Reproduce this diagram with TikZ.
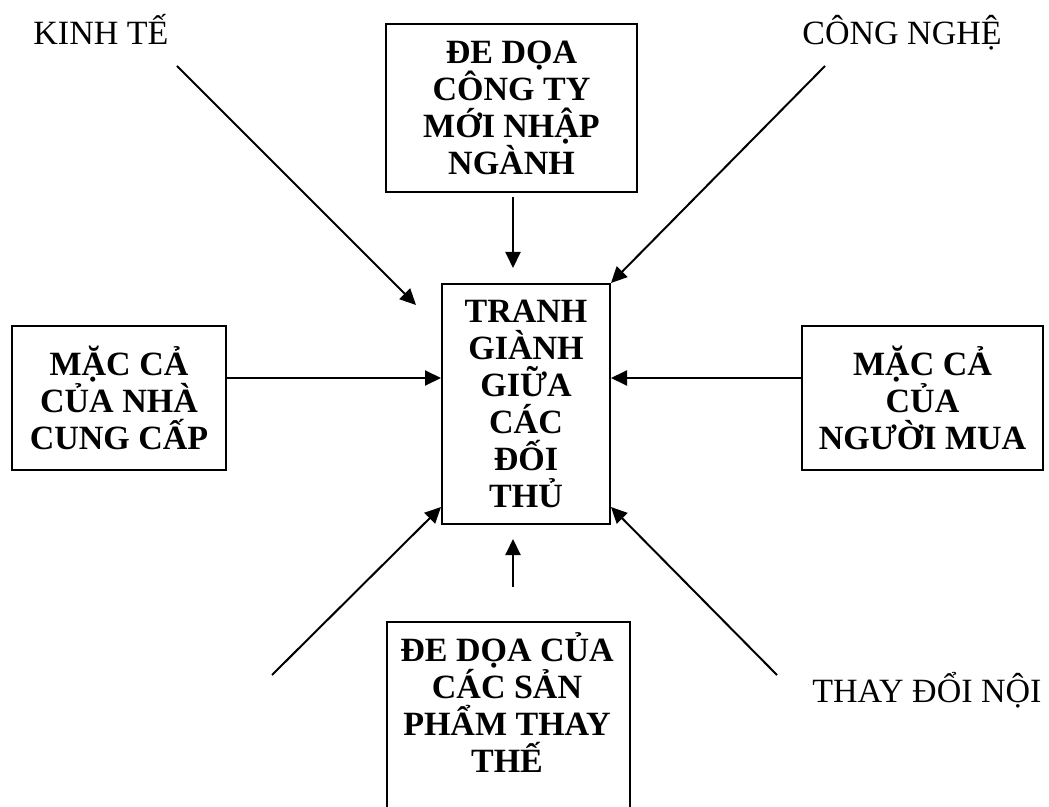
\documentclass[tikz,border=0pt]{standalone}
\usepackage{fontspec}
\setmainfont{Liberation Serif}
\usetikzlibrary{arrows.meta}
\tikzset{
  box/.style={draw, line width=1pt, align=center, inner sep=0pt, anchor=north west,
    font=\bfseries\fontsize{17}{18.5}\selectfont},
  boxtext/.style={align=center, inner sep=0pt, font=\bfseries\fontsize{17}{18.5}\selectfont},
  lbl/.style={inner sep=0pt, anchor=base west, font=\fontsize{17}{20}\selectfont},
  arr/.style={line width=1pt, -{Triangle[length=8pt,width=7.5pt]}}
}
\begin{document}
\begin{tikzpicture}[x=0.5pt,y=-0.5pt]
\useasboundingbox (0,0) rectangle (1049,807);
\clip (0,0) rectangle (1049,807);
% boxes
\node[box, minimum width=125.5pt, minimum height=84pt] (top) at (385,23)
  {ĐE DỌA\\CÔNG TY\\MỚI NHẬP\\NGÀNH};
\node[box, minimum width=84pt, minimum height=120pt] (ctr) at (441,283)
  {TRANH\\GIÀNH\\GIỮA\\CÁC\\ĐỐI\\THỦ};
\node[box, minimum width=107pt, minimum height=72pt] (lft) at (11,325)
  {MẶC CẢ\\CỦA NHÀ\\CUNG CẤP};
\node[box, minimum width=120.5pt, minimum height=72pt] (rgt) at (801,325)
  {MẶC CẢ\\CỦA\\NGƯỜI MUA};
\node[box, minimum width=121.5pt, minimum height=110pt] (bot) at (386,621) {};
\node[boxtext, anchor=north] (bottxt) at (507,632)
  {ĐE DỌA CỦA\\CÁC SẢN\\PHẨM THAY\\THẾ};
% labels
\node[lbl] (kt) at (33,45) {KINH TẾ};
\node[lbl] (cn) at (802,45) {CÔNG NGHỆ};
\node[lbl] (td) at (812,702) {THAY ĐỔI NỘI};
% free ends
\coordinate (ktS) at (177,66);
\coordinate (ktE) at (416,305);
\coordinate (cnS) at (825,66);
\coordinate (blS) at (272,675);
\coordinate (brS) at (777,675);
\coordinate (topS) at (513,197);
\coordinate (topE) at (513,268);
\coordinate (botS) at (513,587);
\coordinate (botE) at (513,539);
% connectors
\draw[arr] (ktS) -- (ktE);
\draw[arr] (cnS) -- (ctr.north east);
\draw[arr] (topS) -- (topE);
\draw[arr] (botS) -- (botE);
\draw[arr] (lft.east |- 0,378) -- (ctr.west |- 0,378);
\draw[arr] (rgt.west |- 0,378) -- (ctr.east |- 0,378);
\draw[arr] (blS) -- (ctr.west |- 0,507);
\draw[arr] (brS) -- (ctr.east |- 0,507);
\end{tikzpicture}
\end{document}
